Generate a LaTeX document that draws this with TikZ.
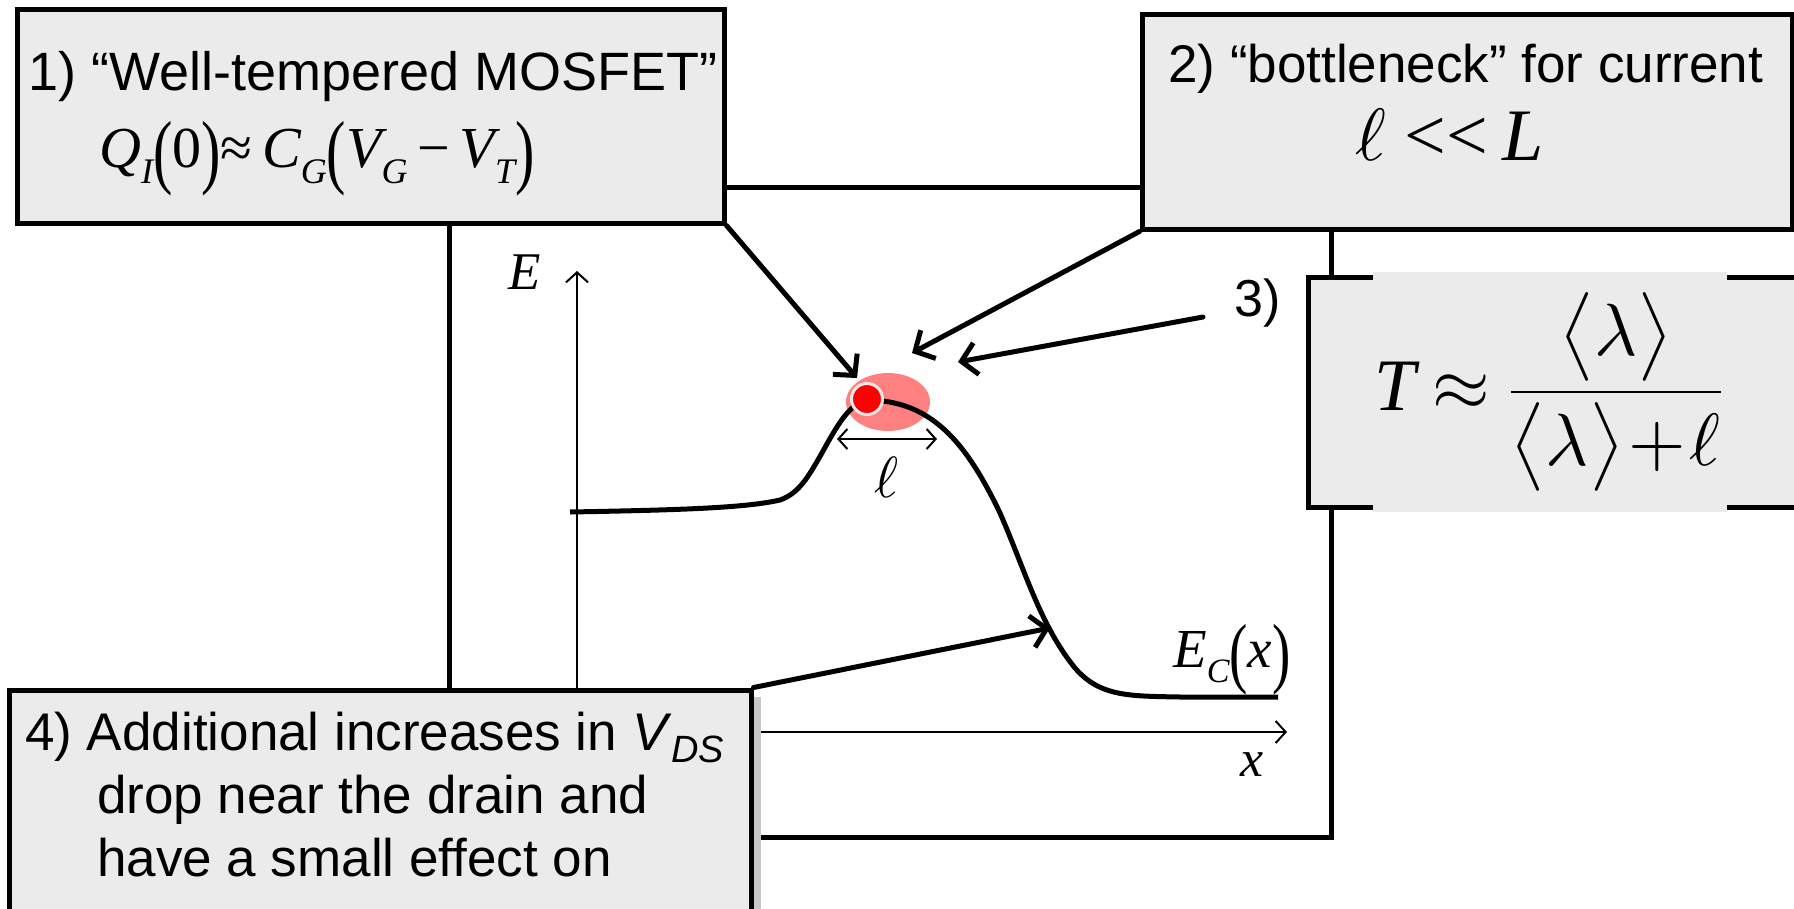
\documentclass[tikz,border=0pt]{standalone}
\usepackage{fontspec}
\setmainfont{Liberation Sans}
\newfontfamily\tnr{Liberation Serif}
\usepackage{amsmath}
\usepackage{graphicx}
\usetikzlibrary{arrows.meta,shapes.geometric}
\definecolor{boxgray}{HTML}{EBEBEB}
\definecolor{shadowgray}{HTML}{C8C8C8}
\definecolor{pinkblob}{HTML}{FF8080}
\definecolor{ringgray}{HTML}{E6E6E6}
\newcommand\tit[1]{{\tnr\itshape #1}}
\newcommand\tsub[1]{\raisebox{-0.28em}{\scalebox{0.62}{\tnr\itshape #1}}}
\newcommand\tpar[1]{\raisebox{-0.2em}{\scalebox{1}[1.42]{\tnr #1}}}
\begin{document}
\begin{tikzpicture}[x=1pt,y=-1pt,
  box/.style={draw=black, line width=5pt, fill=boxgray, inner sep=0pt},
  frameline/.style={draw=black, line width=5pt, inner sep=0pt},
  ptr/.style={line width=5pt, line cap=round, -{Straight Barb[length=15pt,width=32pt]}},
  axisline/.style={line width=2pt, -{Straight Barb[length=10pt,width=22pt]}},
  dimline/.style={line width=2pt, {Straight Barb[length=9pt,width=20pt]}-{Straight Barb[length=9pt,width=20pt]}},
  txt/.style={inner sep=0pt, anchor=base west},
  lbl/.style={inner sep=0pt}]
\clip (0,0) rectangle (1794,908);
\fill[white] (0,0) rectangle (1794,908);

% outer frame
\node[frameline, minimum width=882pt, minimum height=650pt] (frame) at (890,512) {};

% axes
\coordinate (yb) at (577,760);
\coordinate (yt) at (577,271);
\coordinate (xb) at (740,732);
\coordinate (xt) at (1287,732);
\draw[axisline] (yb) -- (yt);
\draw[axisline] (xb) -- (xt);

% barrier highlight
\node[fill=pinkblob, ellipse, minimum width=84pt, minimum height=58pt, inner sep=0pt] (blob) at (888,402) {};

% conduction band
\draw[line width=5pt] (570,512) .. controls (680,510) and (745,508) .. (780,500)
  .. controls (797,494) and (806,480) .. (815,465)
  .. controls (830,440) and (845,405) .. (866,400)
  .. controls (930,400) and (965,440) .. (1000,513)
  .. controls (1025,570) and (1040,625) .. (1075,668)
  .. controls (1100,697) and (1130,696) .. (1180,697) -- (1278,697);

% electron
\node[circle, fill=red, draw=ringgray, line width=3pt, minimum size=31pt, inner sep=0pt] (el) at (867,399) {};

% length marker
\coordinate (dl) at (837,439);
\coordinate (dr) at (937,439);
\draw[dimline] (dl) -- (dr);
\node[lbl] (ell) at (887,477) {\scalebox{5.8}{$\ell$}};

% axis labels
\node[lbl] (Elab) at (525,272) {\fontsize{53}{60}\selectfont\tit{E}};
\node[lbl] (xlab) at (1252,765) {\fontsize{52}{60}\selectfont\tit{x}};
\node[txt] (eclab) at (1173,667) {\fontsize{55}{60}\selectfont\tit{E}\tsub{C}\tpar{(}\tit{x}\tpar{)}};

% box 1
\node[box, minimum width=707pt, minimum height=214pt] (b1) at (370.5,116) {};
\node[txt] (t1a) at (28,90) {\fontsize{54}{60}\selectfont 1) “Well-tempered MOSFET”};
\node[txt] (t1b) at (99,167) {\fontsize{58}{64}\selectfont\tit{Q}\tsub{I}\tpar{(}{\tnr 0}\tpar{)}{\tnr ≈}\,\tit{C}\tsub{G}\tpar{(}\tit{V}\tsub{G}\,{\tnr −}\,\tit{V}\tsub{T}\tpar{)}};

% box 2
\node[box, minimum width=650pt, minimum height=215pt] (b2) at (1467,121.5) {};
\node[txt] (t2a) at (1168,82) {\fontsize{53}{60}\selectfont 2) “bottleneck” for current};
\node[txt] (t2b) at (1355,160) {\scalebox{7.4}{$\ell$\kern0.25em{\tnr <<}\kern0.2em\tit{L}}};

% box 3
\node[box, minimum width=520pt, minimum height=230pt] (b3) at (1568,392) {};
\fill[boxgray] (1373,272) rectangle (1727,512);
\node[lbl] (t3) at (1552,392) {\scalebox{7.4}{$\text{\tnr\itshape T}\mkern-1mu\approx\mkern-2mu\dfrac{\bigl\langle\lambda\bigr\rangle}{\bigl\langle\lambda\bigr\rangle\mkern-3mu+\mkern-3mu\ell}$}};

% box 4
\fill[shadowgray] (751,697) rectangle (761,930);
\node[box, minimum width=742pt, minimum height=260pt] (b4) at (380,820) {};
\node[txt] (t4a) at (25,750) {\fontsize{53}{60}\selectfont 4) Additional increases in \textit{V}\raisebox{-0.24em}{\fontsize{38}{40}\selectfont\textit{DS}}};
\node[txt] (t4b) at (97,813) {\fontsize{53}{60}\selectfont drop near the drain and};
\node[txt] (t4c) at (97,876) {\fontsize{53}{60}\selectfont have a small effect on};

% label 3)
\node[lbl] (l3) at (1258,303) {\fontsize{52}{60}\selectfont 3)};

% pointers
\coordinate (p1) at (857,378);
\coordinate (p2) at (912,353);
\coordinate (s3) at (1203,317);
\coordinate (p3) at (958,362);
\coordinate (p4) at (1050,628);
\draw[ptr] (b1.south east) -- (p1);
\draw[ptr] (b2.south west) -- (p2);
\draw[ptr] (s3) -- (p3);
\draw[ptr] (b4.north east) -- (p4);
\end{tikzpicture}
\end{document}
